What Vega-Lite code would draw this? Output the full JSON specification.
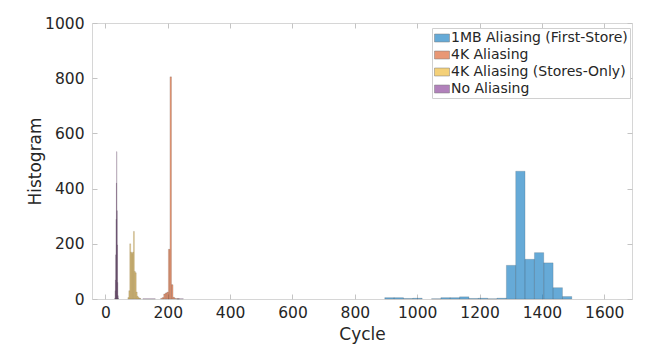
{
  "$schema": "https://vega.github.io/schema/vega-lite/v6.json",
  "width": 540,
  "height": 276,
  "autosize": {"type": "none"},
  "padding": {"left": 92, "top": 23, "right": 36, "bottom": 57},
  "background": "white",
  "config": {
    "view": {"stroke": "#d6d6d6", "strokeWidth": 1},
    "font": "DejaVu Sans",
    "axis": {
      "grid": false,
      "domainColor": "#d6d6d6",
      "tickColor": "#c4c4c4",
      "labelFont": "DejaVu Sans",
      "labelFontSize": 15.5,
      "labelColor": "#262626",
      "titleFont": "DejaVu Sans",
      "titleFontSize": 17,
      "titleFontWeight": "normal",
      "titleColor": "#262626"
    }
  },
  "data": {
    "values": [
      {"s": "1MB Aliasing (First-Store)", "a": 896, "b": 926, "n": 5},
      {"s": "1MB Aliasing (First-Store)", "a": 926, "b": 956, "n": 5},
      {"s": "1MB Aliasing (First-Store)", "a": 956, "b": 986, "n": 2},
      {"s": "1MB Aliasing (First-Store)", "a": 986, "b": 1016, "n": 3},
      {"s": "1MB Aliasing (First-Store)", "a": 1046, "b": 1076, "n": 1},
      {"s": "1MB Aliasing (First-Store)", "a": 1076, "b": 1106, "n": 5},
      {"s": "1MB Aliasing (First-Store)", "a": 1106, "b": 1136, "n": 5},
      {"s": "1MB Aliasing (First-Store)", "a": 1136, "b": 1166, "n": 8},
      {"s": "1MB Aliasing (First-Store)", "a": 1166, "b": 1196, "n": 2},
      {"s": "1MB Aliasing (First-Store)", "a": 1196, "b": 1226, "n": 3},
      {"s": "1MB Aliasing (First-Store)", "a": 1226, "b": 1256, "n": 1},
      {"s": "1MB Aliasing (First-Store)", "a": 1256, "b": 1286, "n": 3},
      {"s": "1MB Aliasing (First-Store)", "a": 1286, "b": 1316, "n": 122},
      {"s": "1MB Aliasing (First-Store)", "a": 1316, "b": 1346, "n": 463},
      {"s": "1MB Aliasing (First-Store)", "a": 1346, "b": 1376, "n": 144},
      {"s": "1MB Aliasing (First-Store)", "a": 1376, "b": 1406, "n": 168},
      {"s": "1MB Aliasing (First-Store)", "a": 1406, "b": 1436, "n": 131},
      {"s": "1MB Aliasing (First-Store)", "a": 1436, "b": 1466, "n": 41},
      {"s": "1MB Aliasing (First-Store)", "a": 1466, "b": 1496, "n": 9},
      {"s": "4K Aliasing", "a": 177, "b": 182, "n": 2},
      {"s": "4K Aliasing", "a": 182, "b": 187, "n": 5},
      {"s": "4K Aliasing", "a": 187, "b": 192, "n": 18},
      {"s": "4K Aliasing", "a": 192, "b": 197, "n": 22},
      {"s": "4K Aliasing", "a": 197, "b": 202, "n": 25},
      {"s": "4K Aliasing", "a": 202, "b": 207, "n": 180},
      {"s": "4K Aliasing", "a": 207, "b": 212, "n": 805},
      {"s": "4K Aliasing", "a": 212, "b": 217, "n": 52},
      {"s": "4K Aliasing", "a": 217, "b": 222, "n": 6},
      {"s": "4K Aliasing", "a": 222, "b": 227, "n": 2},
      {"s": "4K Aliasing", "a": 227, "b": 237, "n": 1},
      {"s": "4K Aliasing (Stores-Only)", "a": 72, "b": 75, "n": 5},
      {"s": "4K Aliasing (Stores-Only)", "a": 75, "b": 78, "n": 30},
      {"s": "4K Aliasing (Stores-Only)", "a": 78, "b": 81, "n": 200},
      {"s": "4K Aliasing (Stores-Only)", "a": 81, "b": 84, "n": 170},
      {"s": "4K Aliasing (Stores-Only)", "a": 84, "b": 87, "n": 165},
      {"s": "4K Aliasing (Stores-Only)", "a": 87, "b": 90, "n": 170},
      {"s": "4K Aliasing (Stores-Only)", "a": 90, "b": 93, "n": 245},
      {"s": "4K Aliasing (Stores-Only)", "a": 93, "b": 96, "n": 100},
      {"s": "4K Aliasing (Stores-Only)", "a": 96, "b": 99, "n": 95},
      {"s": "4K Aliasing (Stores-Only)", "a": 99, "b": 102, "n": 25},
      {"s": "4K Aliasing (Stores-Only)", "a": 102, "b": 105, "n": 10},
      {"s": "4K Aliasing (Stores-Only)", "a": 105, "b": 108, "n": 5},
      {"s": "4K Aliasing (Stores-Only)", "a": 108, "b": 111, "n": 3},
      {"s": "4K Aliasing (Stores-Only)", "a": 111, "b": 114, "n": 2},
      {"s": "No Aliasing", "a": 30, "b": 31, "n": 3},
      {"s": "No Aliasing", "a": 31, "b": 32, "n": 30},
      {"s": "No Aliasing", "a": 32, "b": 33, "n": 69},
      {"s": "No Aliasing", "a": 33, "b": 34, "n": 160},
      {"s": "No Aliasing", "a": 34, "b": 35, "n": 289},
      {"s": "No Aliasing", "a": 35, "b": 36, "n": 420},
      {"s": "No Aliasing", "a": 36, "b": 37, "n": 534},
      {"s": "No Aliasing", "a": 37, "b": 38, "n": 320},
      {"s": "No Aliasing", "a": 38, "b": 39, "n": 196},
      {"s": "No Aliasing", "a": 39, "b": 40, "n": 60},
      {"s": "No Aliasing", "a": 40, "b": 41, "n": 12},
      {"s": "No Aliasing", "a": 41, "b": 42, "n": 3},
      {"s": "No Aliasing", "a": 120, "b": 160, "n": 1},
      {"s": "No Aliasing", "a": 230, "b": 250, "n": 1}
    ]
  },
  "layer": [
    {
      "mark": {"type": "bar", "orient": "vertical", "fillOpacity": 0.6, "stroke": "#262626", "strokeOpacity": 0.3, "strokeWidth": 0.5},
      "encoding": {
        "x": {
          "field": "a", "type": "quantitative",
          "scale": {"domain": [-43, 1689], "nice": false, "zero": false, "padding": 0},
          "axis": {"values": [0, 200, 400, 600, 800, 1000, 1200, 1400, 1600], "format": "d", "tickSize": -5, "labelPadding": 11, "title": "Cycle", "titlePadding": 6, "domain": false}
        },
        "x2": {"field": "b"},
        "y": {
          "field": "n", "type": "quantitative",
          "scale": {"domain": [0, 1000], "nice": false, "padding": 0},
          "axis": {"values": [0, 200, 400, 600, 800, 1000], "format": "d", "tickSize": -5, "labelPadding": 13, "title": "Histogram", "titlePadding": 0, "domain": false}
        },
        "y2": {"datum": 0},
        "color": {
          "field": "s", "type": "nominal",
          "scale": {
            "domain": ["1MB Aliasing (First-Store)", "4K Aliasing", "4K Aliasing (Stores-Only)", "No Aliasing"],
            "range": ["#0072BD", "#D95319", "#EDB120", "#7E2F8E"]
          },
          "legend": {
            "orient": "none", "legendX": 340, "legendY": 5, "title": null,
            "labelFont": "DejaVu Sans", "labelFontSize": 14, "labelColor": "#262626", "labelLimit": 400,
            "symbolType": "M-1,-0.53H1V0.53H-1Z", "symbolSize": 225,
            "symbolOpacity": 0.6, "symbolStrokeWidth": 0.5,
            "strokeColor": "#d0d0d0", "fillColor": "white", "padding": 2,
            "rowPadding": 2, "labelOffset": 1
          }
        },
        "order": {"field": "s"}
      }
    },
    {
      "mark": {"type": "bar", "orient": "vertical", "opacity": 0},
      "encoding": {
        "x": {
          "field": "a", "type": "quantitative",
          "scale": {"domain": [-43, 1689], "nice": false, "zero": false, "padding": 0},
          "axis": {"orient": "top", "values": [0, 200, 400, 600, 800, 1000, 1200, 1400, 1600], "tickSize": -5, "labels": false, "title": null, "domain": false}
        },
        "x2": {"field": "b"},
        "y": {
          "field": "n", "type": "quantitative",
          "scale": {"domain": [0, 1000], "nice": false, "padding": 0},
          "axis": {"orient": "right", "values": [0, 200, 400, 600, 800, 1000], "tickSize": -5, "labels": false, "title": null, "domain": false}
        },
        "y2": {"datum": 0}
      }
    }
  ],
  "resolve": {"axis": {"x": "independent", "y": "independent"}}
}
